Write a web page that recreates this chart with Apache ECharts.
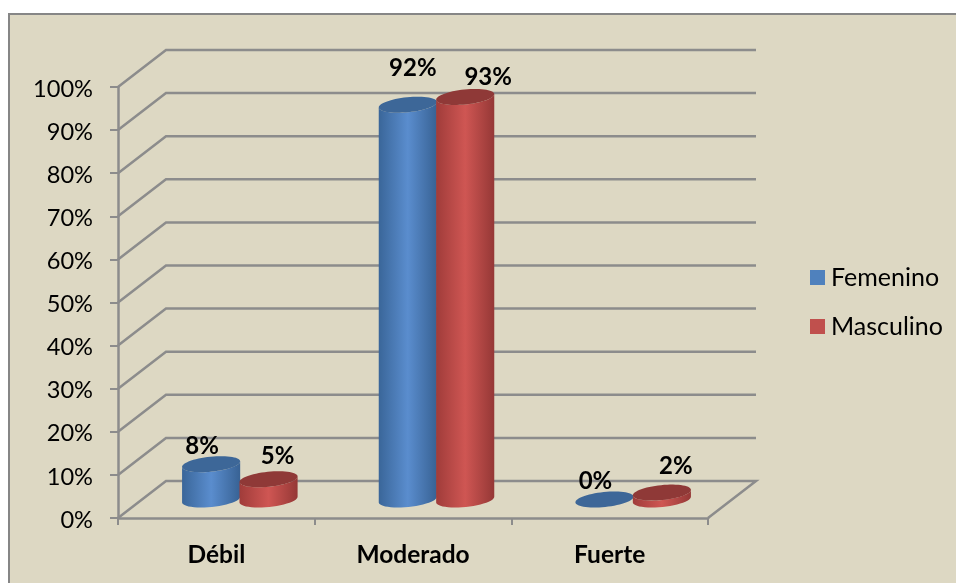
<!DOCTYPE html>
<html><head><meta charset="utf-8">
<style>html,body{margin:0;padding:0;background:#fff}#c{width:956px;height:583px}</style>
<script src="https://cdn.jsdelivr.net/npm/echarts@6/dist/echarts.min.js"></script>
</head><body><div id="c"></div>
<script>
const categories = ['Débil', 'Moderado', 'Fuerte'];
const femenino = [8.2, 91.6, 0];
const masculino = [4.7, 93.4, 1.6];
const yTicks = [0, 10, 20, 30, 40, 50, 60, 70, 80, 90, 100];

const FONT = 'Lato, "Open Sans", sans-serif';
const DEPTH_X = 48, DEPTH_Y = 37;
const LINE = '#8c8c8c';
const labelNudge = {
  Femenino: [[-9, -18], [5, -36], [-9, -18]],
  Masculino: [[9, -23], [23, -20], [14, -26]]
};

function ellipsePts(cx, cy, a, b, from, to, n) {
  const th = -5.8 * Math.PI / 180, pts = [];
  for (let i = 0; i <= n; i++) {
    const t = from + (to - from) * i / n;
    pts.push([
      cx + a * Math.cos(t) * Math.cos(th) - b * Math.sin(t) * Math.sin(th),
      cy + a * Math.cos(t) * Math.sin(th) + b * Math.sin(t) * Math.cos(th)
    ]);
  }
  return pts;
}
function grad(c0, c1, c2) {
  return { type: 'linear', x: 0, y: 0, x2: 1, y2: 0, colorStops: [
    { offset: 0, color: c0 }, { offset: 0.5, color: c1 }, { offset: 1, color: c2 }] };
}
function cylinderSeries(name, values, side, shift, legendColor, body, topColor) {
  return {
    name, type: 'custom', coordinateSystem: 'cartesian2d', z: 5,
    itemStyle: { color: legendColor },
    encode: { x: 0, y: 1 },
    data: values.map((v, i) => [i, v]),
    renderItem(params, api) {
      const i = api.value(0), v = api.value(1);
      const top = api.coord([i, v]), base = api.coord([i, 0]);
      const band = api.size([1, 0])[0];
      const a = band * 0.1485, b = 7.5;
      const cx = top[0] + DEPTH_X / 2 + side * a + shift;
      const yTop = top[1] - DEPTH_Y / 2, yBase = base[1] - DEPTH_Y / 2;
      const lower = ellipsePts(cx, yBase, a, b, 0, Math.PI, 24);
      const upper = ellipsePts(cx, yTop, a, b, Math.PI, 0, 24);
      const nudge = labelNudge[name][i];
      const children = [];
      if (v > 0) children.push({ type: 'polygon', shape: { points: lower.concat(upper) }, style: { fill: grad(body[0], body[1], body[2]) } });
      children.push({ type: 'polygon', shape: { points: ellipsePts(cx, yTop, a, b, 0, Math.PI * 2, 60) }, style: { fill: topColor } });
      children.push({ type: 'text', z2: 50, style: {
        text: Math.round(v) + '%', x: cx + nudge[0], y: yTop + nudge[1],
        textAlign: 'center', textVerticalAlign: 'middle', fill: '#000', font: 'bold 24px ' + FONT } });
      return { type: 'group', children };
    }
  };
}

const chart = echarts.init(document.getElementById('c'), null, { renderer: 'canvas' });
chart.setOption({
  animation: false,
  backgroundColor: '#ffffff',
  graphic: [{ type: 'rect', z: -100, silent: true, shape: { x: 9, y: 14, width: 1000, height: 1000 },
    style: { fill: '#ddd8c3', stroke: '#868686', lineWidth: 2 } }],
  grid: { left: 118, top: 87, width: 590, height: 431 },
  legend: { data: ['Femenino', 'Masculino'], orient: 'vertical', left: 810, top: 265, padding: 0, icon: 'rect',
    itemWidth: 15, itemHeight: 15, itemGap: 24, textStyle: { fontFamily: FONT, fontSize: 25, color: '#000', padding: [0, 0, 0, 1] } },
  xAxis: { type: 'category', data: categories,
    axisLine: { lineStyle: { color: LINE, width: 2.5 } },
    axisTick: { show: true, length: 7, lineStyle: { color: LINE, width: 2 } },
    axisLabel: { margin: 25, color: '#000', fontFamily: FONT, fontSize: 24.5, fontWeight: 'bold' } },
  yAxis: { type: 'value', min: 0, max: 100, interval: 10,
    axisLine: { show: true, lineStyle: { color: LINE, width: 2.5 } },
    axisTick: { show: true, length: 8, lineStyle: { color: LINE, width: 2 } },
    axisLabel: { margin: 25, color: '#000', fontFamily: FONT, fontSize: 23.6, verticalAlign: 'top', lineHeight: 4, formatter: '{value}%' },
    splitLine: { show: false } },
  series: [
    { name: 'walls', type: 'custom', coordinateSystem: 'cartesian2d', z: 1, silent: true,
      encode: { x: 0, y: 1 },
      data: yTicks.map(t => [0, t]),
      renderItem(params, api) {
        const y = api.coord([0, api.value(1)])[1];
        const g = params.coordSys;
        const L = g.x, R = g.x + g.width;
        const pts = [[L, y], [L + DEPTH_X, y - DEPTH_Y], [R + DEPTH_X, y - DEPTH_Y]];
        if (api.value(1) === 0) pts.push([R, y]);
        return { type: 'polyline', shape: { points: pts }, style: { stroke: LINE, lineWidth: 2.5, fill: 'none' } };
      } },
    cylinderSeries('Femenino', femenino, -1, 0, '#4f81bd', ['#3a6699', '#5a8dce', '#386294'], '#3d6798'),
    cylinderSeries('Masculino', masculino, 1, -1, '#c0504d', ['#a03c3a', '#cf5653', '#953836'], '#8f3937')
  ]
});
</script></body></html>
